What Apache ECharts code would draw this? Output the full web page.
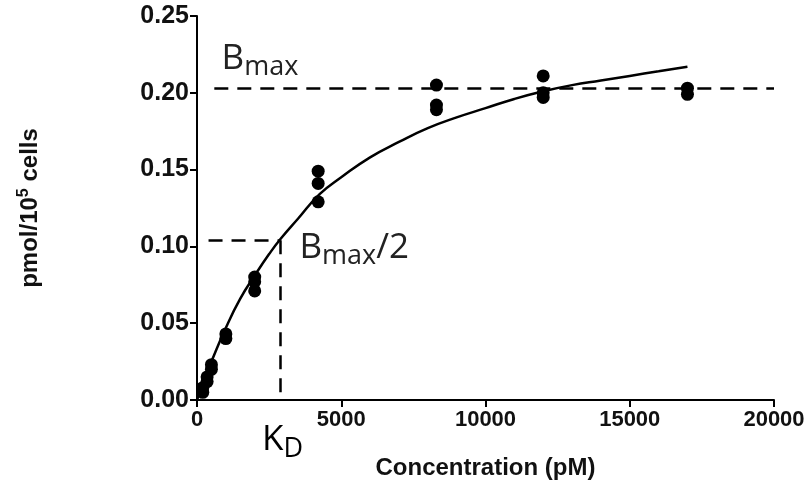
<!DOCTYPE html>
<html>
<head>
<meta charset="utf-8">
<script src="https://cdn.jsdelivr.net/npm/echarts@6/dist/echarts.min.js"></script>
<style>
html,body{margin:0;padding:0;background:#fff;}
#chart{width:811px;height:491px;}
</style>
</head>
<body>
<div id="chart"></div>
<script>
// measured points (concentration pM, pmol/10^5 cells)
var pointConc = [200, 200, 350, 350, 500, 500, 1000, 1000,
	2000, 2000, 2000, 4200, 4200, 4200, 8300, 8300, 8300,
	12000, 12000, 12000, 17000, 17000];
var pointVal = [0.005, 0.008, 0.012, 0.015, 0.020, 0.023, 0.040, 0.043,
	0.071, 0.077, 0.080, 0.129, 0.141, 0.149, 0.189, 0.192, 0.205,
	0.197, 0.200, 0.211, 0.199, 0.203];
// fitted curve
var curveConc = [0, 250, 500, 1000, 1500, 2000, 2500, 2900, 3500, 4250, 5000, 6000,
	7000, 8000, 9000, 10000, 11000, 12000, 13000, 14000, 15000, 16000, 17000];
var curveVal = [0, 0.013, 0.025, 0.047, 0.066, 0.081, 0.095, 0.105, 0.118, 0.134, 0.145, 0.158,
	0.168, 0.177, 0.184, 0.190, 0.196, 0.201, 0.205, 0.208, 0.211, 0.214, 0.217];
var bmax = 0.203;
var halfB = 0.104;
var kd = 2880;

var chart = echarts.init(document.getElementById('chart'));
var boldFont = 'Liberation Sans';
var nameFont = {fontFamily: boldFont, fontWeight: 'bold', fontSize: 24, color: '#111'};
var annFont = 'Open Sans';
var annRich = {
	b: {fontFamily: annFont, fontSize: 35, color: '#222'},
	sub: {fontFamily: annFont, fontSize: 27, color: '#222', padding: [17, 0, 0, 0]}
};

chart.setOption({
	animation: false,
	grid: {left: 197, right: 37, top: 16, bottom: 91},
	xAxis: {
		type: 'value', min: 0, max: 20000, interval: 5000,
		name: 'Concentration (pM)', nameLocation: 'middle', nameGap: 56,
		nameTextStyle: nameFont,
		axisLine: {show: true, lineStyle: {color: '#000', width: 2}},
		axisTick: {show: true, length: 7, lineStyle: {color: '#000', width: 2}},
		axisLabel: {margin: 9, fontFamily: boldFont, fontWeight: 'bold', fontSize: 22, color: '#111',
			formatter: function (v) { return String(v); }},
		splitLine: {show: false}
	},
	yAxis: {
		type: 'value', min: 0, max: 0.25, interval: 0.05,
		name: '{n|pmol/10}{s|5}{n| cells}', nameLocation: 'middle', nameGap: 153, nameRotate: 90,
		nameTextStyle: {
			rich: {
				n: nameFont,
				s: {fontFamily: boldFont, fontWeight: 'bold', fontSize: 16, color: '#111', verticalAlign: 'top', padding: [0, 0, 12, 0]}
			}
		},
		axisLine: {show: true, lineStyle: {color: '#000', width: 2}},
		axisTick: {show: true, length: 7, lineStyle: {color: '#000', width: 2}},
		axisLabel: {margin: 8, fontFamily: boldFont, fontWeight: 'bold', fontSize: 25, color: '#111',
			formatter: function (v) { return v.toFixed(2); }},
		splitLine: {show: false}
	},
	series: [
		{
			type: 'line',
			data: curveConc.map(function (c, i) { return [c, curveVal[i]]; }),
			smooth: true, showSymbol: false,
			lineStyle: {color: '#000', width: 2.5},
			markLine: {
				silent: true, symbol: 'none',
				lineStyle: {color: '#000', type: [14, 9], width: 2.5},
				label: {show: false},
				data: [
					[{coord: [600, bmax]}, {coord: [20000, bmax]}],
					[{coord: [400, halfB]}, {coord: [kd, halfB]}],
					[{coord: [kd, halfB]}, {coord: [kd, 0]}]
				]
			},
			markPoint: {
				symbol: 'circle', symbolSize: 0, silent: true,
				label: {
					show: true, position: 'right', distance: 0,
					formatter: function (p) { return p.name; },
					rich: annRich
				},
				data: [
					{name: '{b|B}{sub|max}', coord: [850, 0.222]},
					{name: '{b|B}{sub|max}{b|/2}', coord: [3550, 0.099]}
				]
			},
			z: 2
		},
		{
			type: 'scatter',
			data: pointConc.map(function (c, i) { return [c, pointVal[i]]; }),
			symbol: 'circle', symbolSize: 13,
			itemStyle: {color: '#000', opacity: 1},
			z: 3
		}
	]
});

// K_D label under the axis, placed at the KD position
var kdPos = chart.convertToPixel({gridIndex: 0}, [kd, 0]);
chart.setOption({
	graphic: [{
		type: 'text', left: kdPos[0] - 18, top: kdPos[1] + 23,
		style: {text: '{b|K}{sub|D}', rich: annRich}
	}]
});
</script>
</body>
</html>
